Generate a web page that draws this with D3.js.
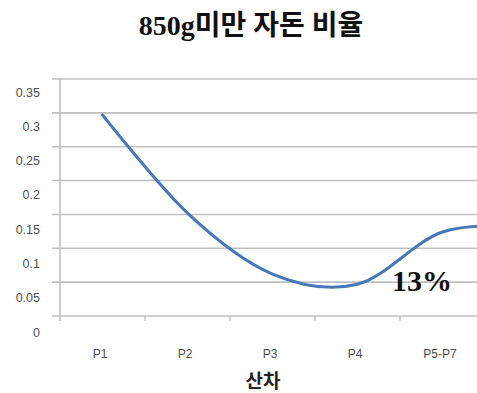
<!DOCTYPE html>
<html>
<head>
<meta charset="utf-8">
<script src="https://cdn.jsdelivr.net/npm/d3@7"></script>
<style>
  html, body { margin: 0; padding: 0; background: #fff; }
  svg { display: block; }
</style>
</head>
<body>
<svg id="chart" width="477" height="393"></svg>
<script>
// Parity groups and the share of piglets under 850 g in each
const categories = ["P1", "P2", "P3", "P4", "P5-P7", "P8+"];
const shares = [0.297, 0.152, 0.062, 0.047, 0.124, 0.132];
const yTicks = [0, 0.05, 0.1, 0.15, 0.2, 0.25, 0.3, 0.35];
const yTickLabels = ["0", "0.05", "0.1", "0.15", "0.2", "0.25", "0.3", "0.35"];
const titleText = "850g미만 자돈 비율";
const xTitle = "산차";
const noteText = "13%";

const W = 477, H = 393;
const svg = d3.select("#chart");

const plotLeft = 60, band = 85;
const x = d3.scalePoint()
  .domain(categories)
  .range([plotLeft, plotLeft + band * categories.length])
  .padding(0.5);
const xEdges = d3.scaleLinear().domain([0, categories.length]).range([plotLeft, plotLeft + band * categories.length]);
const y = d3.scaleLinear().domain([0, 0.35]).range([316, 79]);
// value labels sit a little below their gridlines
const yLabel = d3.scaleLinear().domain([0, 0.35]).range([332, 92]);

const gridColor = "#c0c0c0";

// horizontal gridlines
svg.append("g")
  .selectAll("line")
  .data(yTicks)
  .join("line")
  .attr("x1", plotLeft - 8)
  .attr("x2", W)
  .attr("y1", d => y(d))
  .attr("y2", d => y(d))
  .attr("stroke", gridColor)
  .attr("stroke-width", 1.6);

// vertical axis line
svg.append("line")
  .attr("x1", plotLeft).attr("x2", plotLeft)
  .attr("y1", y(0.35)).attr("y2", y(0) + 5)
  .attr("stroke", gridColor)
  .attr("stroke-width", 1.6);

// category boundary ticks
svg.append("g")
  .selectAll("line")
  .data(d3.range(1, categories.length))
  .join("line")
  .attr("x1", d => xEdges(d)).attr("x2", d => xEdges(d))
  .attr("y1", y(0)).attr("y2", y(0) + 5)
  .attr("stroke", gridColor)
  .attr("stroke-width", 1.4);

// y tick labels
const yAxis = d3.axisLeft(yLabel)
  .tickValues(yTicks)
  .tickFormat((d, i) => yTickLabels[i])
  .tickSize(0)
  .tickPadding(0);
const gy = svg.append("g").attr("transform", `translate(${40},0)`).call(yAxis);
gy.select(".domain").remove();
gy.selectAll("text")
  .attr("font-family", "Liberation Sans, Arial, sans-serif")
  .attr("font-size", 12.5)
  .attr("fill", "#505050");

// x tick labels
const visibleCats = categories.filter(c => x(c) < W - 20);
const xAxis = d3.axisBottom(x)
  .tickValues(visibleCats)
  .tickSize(0)
  .tickPadding(0);
const gx = svg.append("g").attr("transform", `translate(-3,${349})`).call(xAxis);
gx.select(".domain").remove();
gx.selectAll("text")
  .attr("font-family", "Liberation Sans, Arial, sans-serif")
  .attr("font-size", 12)
  .attr("fill", "#505050");

// smoothed share line
const line = d3.line()
  .x((d, i) => x(categories[i]))
  .y(d => y(d))
  .curve(d3.curveCardinal.tension(0));
svg.append("path")
  .datum(shares)
  .attr("d", line)
  .attr("fill", "none")
  .attr("stroke", "#4677b9")
  .attr("stroke-width", 3)
  .attr("stroke-linecap", "round");

// title
svg.append("text")
  .attr("x", 251).attr("y", 35)
  .attr("text-anchor", "middle")
  .attr("font-family", "Liberation Serif, 'Noto Sans CJK KR', serif")
  .attr("font-weight", "bold")
  .attr("font-size", 28)
  .attr("fill", "#111")
  .text(titleText);

// x axis title
svg.append("text")
  .attr("x", 263).attr("y", 388)
  .attr("text-anchor", "middle")
  .attr("font-family", "'Noto Sans CJK KR', sans-serif")
  .attr("font-weight", "bold")
  .attr("font-size", 19)
  .attr("fill", "#222")
  .text(xTitle);

// annotation for the latest parity group
svg.append("text")
  .attr("x", 392).attr("y", 291)
  .attr("font-family", "Liberation Serif, 'Times New Roman', serif")
  .attr("font-weight", "bold")
  .attr("font-size", 30)
  .attr("fill", "#111")
  .text(noteText);
</script>
</body>
</html>
